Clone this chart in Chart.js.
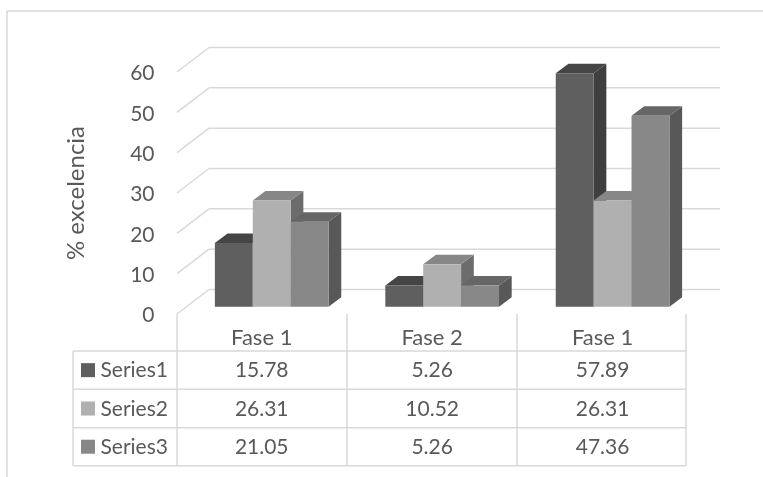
<!DOCTYPE html>
<html>
<head>
<meta charset="utf-8">
<style>
  html, body { margin: 0; padding: 0; background: #fff; }
  canvas { display: block; }
</style>
</head>
<body>
<canvas id="chart" width="763" height="477"></canvas>
<script src="https://cdn.jsdelivr.net/npm/chart.js"></script>
<script>
var categories = ['Fase 1', 'Fase 2', 'Fase 1'];
var seriesNames = ['Series1', 'Series2', 'Series3'];
var series1 = [15.78, 5.26, 57.89];
var series2 = [26.31, 10.52, 26.31];
var series3 = [21.05, 5.26, 47.36];
var yTicks = [0, 10, 20, 30, 40, 50, 60];
var yTitle = '% excelencia';

var fontName = 'Lato, sans-serif';
var textColor = '#595959';
var lineColor = '#d9d9d9';
var fronts = ['#5f5f5f', '#b0b0b0', '#888888'];
var tops = ['#454545', '#878787', '#666666'];
var sides = ['#3f3f3f', '#6c6c6c', '#585858'];

var rows = [series1, series2, series3];
var rowLines = [351, 389.3, 427.7, 465.7];
var colLines = [177, 347, 517, 686];

function poly(ctx, pts, color) {
  ctx.fillStyle = color;
  ctx.beginPath();
  ctx.moveTo(pts[0][0], pts[0][1]);
  for (var i = 1; i < pts.length; i++) ctx.lineTo(pts[i][0], pts[i][1]);
  ctx.closePath();
  ctx.fill();
}

function line(ctx, x1, y1, x2, y2) {
  ctx.beginPath();
  ctx.moveTo(x1, y1);
  ctx.lineTo(x2, y2);
  ctx.stroke();
}

// frame, back wall gridlines and the data table go under the bars
var backdrop = {
  id: 'backdrop',
  beforeDraw: function (chart) {
    var ctx = chart.ctx;
    var y = chart.scales.y;
    var x = chart.scales.x;
    ctx.save();
    ctx.fillStyle = '#fff';
    ctx.fillRect(0, 0, chart.width, chart.height);
    ctx.strokeStyle = lineColor;
    ctx.lineWidth = 1.5;
    line(ctx, 7, 11, 763, 11);
    line(ctx, 7, 11, 7, 477);

    yTicks.forEach(function (v) {
      var py = y.getPixelForValue(v);
      line(ctx, 177, py, 209, py - 24.5);
      line(ctx, 209, py - 24.5, 720, py - 24.5);
    });

    colLines.forEach(function (cx) {
      line(ctx, cx, y.getPixelForValue(0), cx, rowLines[3]);
    });
    line(ctx, 73, rowLines[0], 73, rowLines[3]);
    rowLines.forEach(function (ry) {
      line(ctx, 73, ry, colLines[3], ry);
    });

    ctx.font = '21px ' + fontName;
    ctx.textBaseline = 'middle';
    rows.forEach(function (values, r) {
      var midY = (rowLines[r] + rowLines[r + 1]) / 2 + 0.5;
      ctx.fillStyle = fronts[r];
      ctx.fillRect(81, midY - 7.5, 14, 14);
      ctx.fillStyle = textColor;
      ctx.textAlign = 'left';
      ctx.fillText(seriesNames[r], 100.5, midY);
      ctx.textAlign = 'center';
      values.forEach(function (v, c) {
        ctx.fillText(v.toFixed(2), x.getPixelForTick(c), midY);
      });
    });
    ctx.restore();
  }
};

// bars sit mid depth on the floor, so shift them and add top + side faces
var bars3d = {
  id: 'bars3d',
  beforeDatasetsDraw: function (chart) {
    var ctx = chart.ctx;
    var dx = 12.7, dy = 9.5;
    ctx.save();
    ctx.translate(10, -7.3);
    chart.data.datasets.forEach(function (ds, i) {
      var meta = chart.getDatasetMeta(i);
      meta.data.forEach(function (bar) {
        var p = bar.getProps(['x', 'y', 'base', 'width'], true);
        var l = p.x - p.width / 2;
        var r = p.x + p.width / 2;
        poly(ctx, [[r, p.y], [r + dx, p.y - dy], [r + dx, p.base - dy], [r, p.base]], sides[i]);
        poly(ctx, [[l, p.y], [r, p.y], [r + dx, p.y - dy], [l + dx, p.y - dy]], tops[i]);
        bar.draw(ctx);
      });
    });
    ctx.restore();
    return false;
  }
};

new Chart(document.getElementById('chart'), {
  type: 'bar',
  data: {
    labels: categories,
    datasets: [
      { label: seriesNames[0], data: series1, backgroundColor: fronts[0] },
      { label: seriesNames[1], data: series2, backgroundColor: fronts[1] },
      { label: seriesNames[2], data: series3, backgroundColor: fronts[2] }
    ]
  },
  options: {
    responsive: false,
    animation: false,
    devicePixelRatio: 1,
    layout: { padding: { top: 72, right: 75.2, bottom: 0, left: 0 } },
    plugins: { legend: { display: false }, tooltip: { enabled: false } },
    datasets: { bar: { categoryPercentage: 0.667, barPercentage: 1 } },
    scales: {
      x: {
        afterFit: function (s) { s.height = 163; },
        grid: { display: false, drawTicks: false },
        border: { display: false },
        ticks: { color: textColor, font: { family: fontName, size: 22 }, padding: 11, maxRotation: 0 }
      },
      y: {
        min: 0,
        max: 60,
        afterFit: function (s) { s.width = 176.5; },
        grid: { display: false, drawTicks: false },
        border: { display: false },
        afterBuildTicks: function (s) { s.ticks = yTicks.map(function (v) { return { value: v }; }); },
        ticks: { color: textColor, font: { family: fontName, size: 21 }, padding: 22, labelOffset: 1.5 },
        title: {
          display: true,
          text: yTitle,
          color: textColor,
          font: { family: fontName, size: 24 },
          padding: { top: 62, bottom: 0 }
        }
      }
    }
  },
  plugins: [backdrop, bars3d]
});
</script>
</body>
</html>
